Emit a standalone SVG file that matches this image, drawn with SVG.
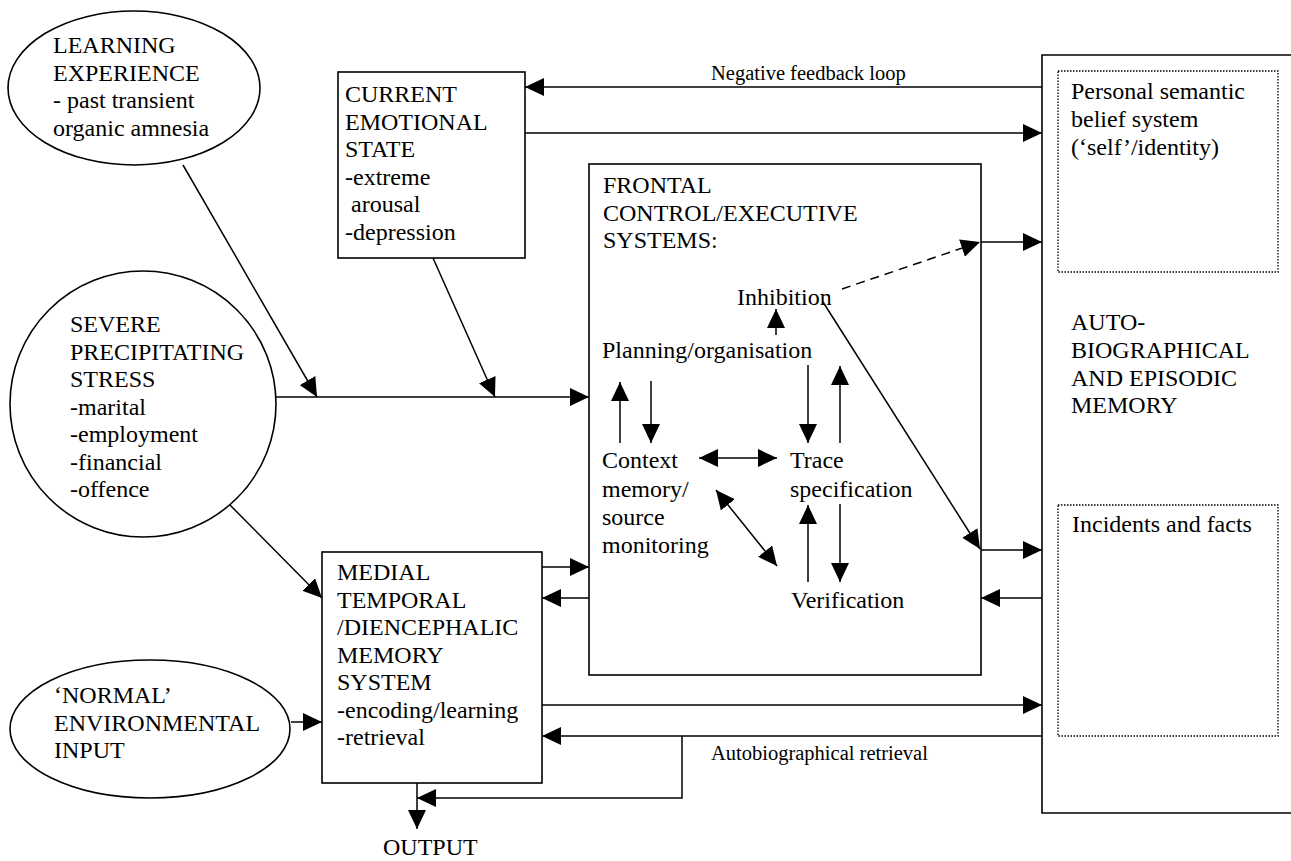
<svg xmlns="http://www.w3.org/2000/svg" width="1291" height="861" viewBox="0 0 1291 861" font-family="'Liberation Serif', 'Times New Roman', 'DejaVu Serif', serif">
<defs>
<marker id="ah" markerUnits="userSpaceOnUse" markerWidth="19" markerHeight="18" refX="19" refY="9" orient="auto-start-reverse" viewBox="0 0 19 18">
<path d="M0,0 L19,9 L0,18 z" fill="#000"/>
</marker>
</defs>
<style>
text{font-family:'Liberation Serif','Times New Roman','DejaVu Serif',serif;font-size:24px;fill:#000}
.sm{font-size:20.5px}
.box{fill:none;stroke:#000;stroke-width:1.6}
.dot{fill:none;stroke:#000;stroke-width:1.3;stroke-dasharray:1.5 1.5}
.ln{fill:none;stroke:#000;stroke-width:1.5}
.ar{marker-end:url(#ah)}
.da{marker-start:url(#ah);marker-end:url(#ah)}
.dash{stroke-dasharray:9 6}
</style>
<rect width="1291" height="861" fill="#fff"/>

<g id="learning">
<ellipse class="box" cx="134" cy="88" rx="126" ry="77"/>
<text x="53" y="53">LEARNING</text>
<text x="53" y="81">EXPERIENCE</text>
<text x="53" y="108">- past transient</text>
<text x="53" y="136">organic amnesia</text>
</g>

<g id="emotional">
<rect class="box" x="338" y="72" width="187" height="186"/>
<text x="345" y="102">CURRENT</text>
<text x="345" y="129.5">EMOTIONAL</text>
<text x="345" y="157">STATE</text>
<text x="345" y="184.5">-extreme</text>
<text x="351" y="212">arousal</text>
<text x="345" y="239.5">-depression</text>
</g>

<g id="stress">
<circle class="box" cx="143" cy="404" r="133"/>
<text x="70" y="332">SEVERE</text>
<text x="70" y="359.5">PRECIPITATING</text>
<text x="70" y="387">STRESS</text>
<text x="70" y="414.5">-marital</text>
<text x="70" y="442">-employment</text>
<text x="70" y="469.5">-financial</text>
<text x="70" y="497">-offence</text>
</g>

<g id="normal">
<ellipse class="box" cx="150" cy="729" rx="140" ry="69"/>
<text x="54" y="703">‘NORMAL’</text>
<text x="54" y="731">ENVIRONMENTAL</text>
<text x="54" y="758">INPUT</text>
</g>

<g id="medial">
<rect class="box" x="322" y="552" width="220" height="231"/>
<text x="337" y="580">MEDIAL</text>
<text x="337" y="607.5">TEMPORAL</text>
<text x="337" y="635">/DIENCEPHALIC</text>
<text x="337" y="662.5">MEMORY</text>
<text x="337" y="690">SYSTEM</text>
<text x="337" y="717.5">-encoding/learning</text>
<text x="337" y="745">-retrieval</text>
</g>

<g id="frontal">
<rect class="box" x="589" y="164" width="392" height="511"/>
<text x="603" y="193">FRONTAL</text>
<text x="603" y="221">CONTROL/EXECUTIVE</text>
<text x="603" y="248">SYSTEMS:</text>
</g>

<g id="inhibition"><text x="737" y="305">Inhibition</text></g>
<g id="planning"><text x="602" y="358">Planning/organisation</text></g>
<g id="context">
<text x="602" y="468">Context</text>
<text x="602" y="497">memory/</text>
<text x="602" y="525">source</text>
<text x="602" y="553">monitoring</text>
</g>
<g id="trace">
<text x="790" y="468">Trace</text>
<text x="790" y="497">specification</text>
</g>
<g id="verification"><text x="791" y="608">Verification</text></g>

<g id="autobiographical">
<path class="box" d="M1291,55 H1042 V813 H1291"/>
<text x="1071" y="330">AUTO-</text>
<text x="1071" y="358">BIOGRAPHICAL</text>
<text x="1071" y="386">AND EPISODIC</text>
<text x="1071" y="413">MEMORY</text>
</g>

<g id="semantic">
<rect class="dot" x="1058" y="71" width="220" height="201"/>
<text x="1071" y="99">Personal semantic</text>
<text x="1071" y="127">belief system</text>
<text x="1071" y="155">(‘self’/identity)</text>
</g>

<g id="incidents">
<rect class="dot" x="1058" y="505" width="220" height="231"/>
<text x="1072" y="532">Incidents and facts</text>
</g>

<g id="output"><text x="383" y="855">OUTPUT</text></g>

<g id="connectors">
<line class="ln ar" x1="1042" y1="87" x2="525" y2="87"/>
<text class="sm" x="711" y="80">Negative feedback loop</text>
<line class="ln ar" x1="525" y1="133" x2="1042" y2="133"/>
<line class="ln ar" x1="183" y1="165" x2="317" y2="397"/>
<line class="ln ar" x1="433" y1="258" x2="495" y2="397"/>
<line class="ln ar" x1="276" y1="397" x2="589" y2="397"/>
<line class="ln ar" x1="230" y1="505" x2="322" y2="598"/>
<line class="ln ar" x1="291" y1="722" x2="322" y2="722"/>
<line class="ln ar" x1="542" y1="567" x2="589" y2="567"/>
<line class="ln ar" x1="589" y1="598" x2="542" y2="598"/>
<line class="ln ar" x1="776" y1="335" x2="776" y2="309"/>
<line class="ln ar" x1="620" y1="443" x2="620" y2="382"/>
<line class="ln ar" x1="651" y1="381" x2="651" y2="443"/>
<line class="ln ar" x1="808" y1="365" x2="808" y2="443"/>
<line class="ln ar" x1="840" y1="443" x2="840" y2="366"/>
<line class="ln da" x1="699" y1="458" x2="777" y2="458"/>
<line class="ln da" x1="716" y1="490" x2="777" y2="566"/>
<line class="ln ar" x1="808" y1="582" x2="808" y2="505"/>
<line class="ln ar" x1="840" y1="504" x2="840" y2="582"/>
<line class="ln ar dash" x1="842" y1="289" x2="980" y2="242"/>
<line class="ln ar" x1="981" y1="242" x2="1042" y2="242"/>
<line class="ln ar" x1="823" y1="302" x2="980" y2="549"/>
<line class="ln ar" x1="981" y1="550" x2="1042" y2="550"/>
<line class="ln ar" x1="1042" y1="598" x2="981" y2="598"/>
<line class="ln ar" x1="542" y1="705" x2="1042" y2="705"/>
<line class="ln ar" x1="1042" y1="736" x2="542" y2="736"/>
<text class="sm" x="711" y="760">Autobiographical retrieval</text>
<polyline class="ln ar" points="682,736 682,798 417,798"/>
<line class="ln ar" x1="417" y1="783" x2="417" y2="829"/>
</g>
</svg>
